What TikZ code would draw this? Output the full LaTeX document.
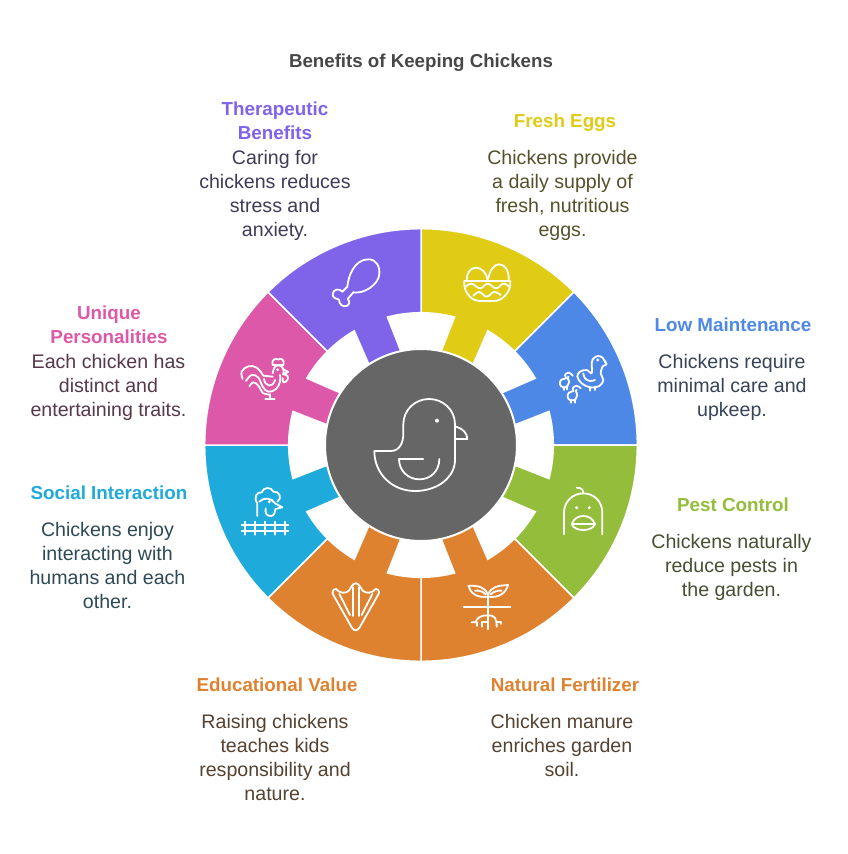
\documentclass[tikz,border=0pt]{standalone}
\usepackage{fontspec}
\setmainfont{Liberation Sans}
\usetikzlibrary{calc}

\definecolor{eggyellow}{HTML}{E0CB15}
\definecolor{lowblue}{HTML}{4E88E7}
\definecolor{pestgreen}{HTML}{93BD3A}
\definecolor{soilorange}{HTML}{DF8230}
\definecolor{socialcyan}{HTML}{1EAADB}
\definecolor{roosterpink}{HTML}{DD58A8}
\definecolor{calmpurple}{HTML}{7F63E9}
\definecolor{hubgray}{HTML}{666666}

% one ring segment: #1 colour, #2 start angle (the tab sits at start + 22.5)
\newcommand{\ringsegment}[2]{
    \pgfmathsetmacro{\tabmid}{#2+22.5}
    \fill[#1, draw=white, line width=1.5pt] ($(421,445)+(#2:216.3)$)
        arc[start angle=#2, end angle=#2+45, radius=216.3]
        -- ($(421,445)+(#2+45:132.3)$)
        arc[start angle=#2+45, end angle=\tabmid+7.8, radius=132.3]
        -- ($(421,445)+(\tabmid+11:90)$) -- ($(421,445)+(\tabmid-11:90)$)
        -- ($(421,445)+(\tabmid-7.8:132.3)$)
        arc[start angle=\tabmid-7.8, end angle=#2, radius=132.3]
        -- cycle;
}

\begin{document}
\begin{tikzpicture}[
    x=1pt, y=-1pt,
    titletext/.style={font=\fontsize{18.7}{24}\selectfont\bfseries, align=center, inner sep=0pt},
    headtext/.style={font=\fontsize{18.8}{24}\selectfont\bfseries, align=center, inner sep=0pt},
    bodytext/.style={font=\fontsize{19.6}{24}\selectfont, align=center, inner sep=0pt},
    iconline/.style={draw=white, line width=1.8pt, line cap=round, line join=round}
]
    \useasboundingbox (0,0) rectangle (848,854);
    \fill[white] (0,0) rectangle (848,854);

    % Title
    \node[titletext, text=black!72] (title) at (421,63) {Benefits of Keeping Chickens};

    % Ring segments, clockwise from the top
    \ringsegment{eggyellow}{-90}
    \ringsegment{lowblue}{-45}
    \ringsegment{pestgreen}{0}
    \ringsegment{soilorange}{45}
    \ringsegment{soilorange}{90}
    \ringsegment{socialcyan}{135}
    \ringsegment{roosterpink}{180}
    \ringsegment{calmpurple}{225}

    % Hub
    \fill[hubgray, draw=white, line width=2pt] (421,445) circle[radius=96];
    \begin{scope}[shift={(360,385)}, scale=1/3]
        \draw[iconline] (43,198) -- (92,198) .. controls (118,198) and (130,175) .. (130,145)
            -- (130,118) .. controls (130,75) and (165,42) .. (207,42)
            .. controls (250,42) and (285,75) .. (285,118) -- (285,225)
            .. controls (285,275) and (235,318) .. (165,318)
            .. controls (95,318) and (43,265) .. (43,198) -- cycle;
        \draw[iconline] (288,125) .. controls (308,130) and (322,145) .. (322,162) -- (288,162);
        \draw[iconline] (190,222) -- (117,222) .. controls (117,258) and (145,283) .. (178,283)
            .. controls (212,283) and (238,258) .. (238,222);
        \fill[white] (231,107) circle[radius=6];
    \end{scope}

    % Drumstick
    \begin{scope}[shift={(200,225)}, scale=1/3]
        \draw[iconline] (442,185) .. controls (445,150) and (465,103) .. (505,103)
            .. controls (530,103) and (540,125) .. (538,148)
            .. controls (535,180) and (490,208) .. (460,202);
        \draw[iconline] (442,185) -- (427,200);
        \draw[iconline] (460,202) -- (443,222);
        \draw[iconline] (427,200) .. controls (418,188) and (398,193) .. (398,208)
            .. controls (398,218) and (408,222) .. (417,224)
            .. controls (417,240) and (430,246) .. (440,243)
            .. controls (450,238) and (450,228) .. (443,222);
    \end{scope}

    % Eggs in a basket
    \begin{scope}[shift={(420,225)}, scale=1/3]
        \draw[iconline] (133,168) -- (271,168) -- (271,180) .. controls (268,205) and (245,228) .. (222,228) -- (180,228)
            .. controls (155,228) and (135,205) .. (133,180) -- cycle;
        \draw[iconline] (140,165) .. controls (140,145) and (150,128) .. (168,128) .. controls (186,128) and (200,145) .. (203,165);
        \draw[iconline] (205,160) .. controls (210,135) and (222,118) .. (238,118) .. controls (256,118) and (268,140) .. (266,165);
        \draw[iconline] plot[smooth, tension=.7] coordinates {(136,186) (155,176) (180,190) (203,176) (228,190) (250,176) (268,186)};
        \draw[iconline] plot[smooth, tension=.7] coordinates {(160,212) (178,201) (200,215) (222,201) (242,210)};
    \end{scope}

    % Duck with two ducklings
    \begin{scope}[shift={(420,225)}, scale=1/3]
        \draw[iconline] plot[smooth, tension=.6] coordinates {(515,420) (518,403) (533,393) (548,398) (555,412)};
        \draw[iconline] (555,408) -- (560,418) -- (548,424);
        \draw[iconline] plot[smooth, tension=.6] coordinates {(548,424) (542,445) (550,465) (538,483) (510,487) (485,475) (472,455) (480,440) (500,435) (515,445) (515,420)};
        \draw[iconline] plot[smooth, tension=.7] coordinates {(490,445) (495,460) (510,468) (525,465)};
        \draw[iconline] (510,487) -- (510,497) (526,485) -- (526,495);
        \fill[white] (533,405) circle[radius=5];
        % first duckling
        \draw[iconline] plot[smooth, tension=.8] coordinates {(458,452) (447,443) (435,450) (438,460) (424,464) (420,478) (430,487) (443,482) (448,470) (443,460) (445,455)};
        \draw[iconline] (431,487) -- (431,495) (441,484) -- (441,493);
        % second duckling
        \draw[iconline] plot[smooth, tension=.8] coordinates {(482,490) (470,482) (458,490) (460,498) (447,503) (443,517) (453,526) (467,522) (472,510) (467,498) (470,494)};
        \draw[iconline] (454,526) -- (454,533) (465,524) -- (465,533);
    \end{scope}

    % Chick face
    \begin{scope}[shift={(420,440)}, scale=1/3]
        \draw[iconline] (432,283) -- (432,218) .. controls (432,185) and (458,160) .. (490,160)
            .. controls (522,160) and (547,185) .. (547,218) -- (547,283);
        \draw[iconline] (470,143) .. controls (485,143) and (490,150) .. (490,160);
        \fill[white] (470,203) circle[radius=5];
        \fill[white] (508,203) circle[radius=5];
        \draw[iconline] (455,252) .. controls (462,235) and (475,228) .. (490,228)
            .. controls (505,228) and (518,235) .. (525,252)
            .. controls (520,265) and (505,270) .. (490,270)
            .. controls (475,270) and (460,265) .. (455,252) -- cycle;
        \draw[iconline] (457,252) -- (523,252);
    \end{scope}

    % Sprout and roots
    \begin{scope}[shift={(420,440)}, scale=1/3]
        \draw[iconline] (204,462) -- (204,568);
        \draw[iconline] (131,500) -- (271,500);
        \draw[iconline] (204,465) .. controls (195,440) and (175,437) .. (145,437)
            .. controls (150,458) and (170,475) .. (204,470);
        \draw[iconline] (204,465) .. controls (213,440) and (233,437) .. (264,435)
            .. controls (258,458) and (238,475) .. (204,470);
        \draw[iconline] (165,452) .. controls (175,450) and (190,455) .. (197,463);
        \draw[iconline] (245,452) .. controls (235,450) and (220,455) .. (212,463);
        \draw[iconline] (155,547) -- (166,547) .. controls (172,535) and (178,526) .. (204,526)
            .. controls (225,526) and (230,535) .. (230,560);
        \draw[iconline] (185,560) -- (185,546) -- (204,546);
        \draw[iconline] (170,547) -- (170,558);
        \draw[iconline] (230,545) -- (242,545) -- (242,552);
    \end{scope}

    % Webbed foot
    \begin{scope}[shift={(200,440)}, scale=1/3]
        \draw[iconline] (408,447) .. controls (398,447) and (395,458) .. (400,465) -- (455,562)
            .. controls (462,574) and (472,574) .. (479,562) -- (534,465)
            .. controls (540,458) and (537,447) .. (527,447)
            .. controls (515,460) and (500,462) .. (488,452)
            .. controls (480,440) and (475,430) .. (467,430)
            .. controls (459,430) and (454,440) .. (447,452)
            .. controls (435,462) and (420,460) .. (408,447) -- cycle;
        \draw[iconline] (458,442) -- (458,528);
        \draw[iconline] (476,442) -- (476,528);
        \draw[iconline] (418,462) -- (450,525);
        \draw[iconline] (517,462) -- (485,525);
    \end{scope}

    % Hen behind a fence
    \begin{scope}[shift={(200,440)}, scale=1/3]
        \foreach \postx in {135,165,195,225,255}
            \draw[iconline] (\postx,245) -- (\postx,284);
        \draw[iconline] (125,256) -- (265,256);
        \draw[iconline] (125,274) -- (265,274);
        \draw[iconline] (172,228) -- (172,190) .. controls (160,172) and (170,155) .. (185,157)
            .. controls (190,140) and (215,140) .. (220,155)
            .. controls (238,152) and (248,175) .. (232,185);
        \draw[iconline] (178,185) .. controls (190,172) and (215,172) .. (225,190) -- (247,202) -- (226,207)
            .. controls (225,218) and (222,228) .. (212,228) .. controls (200,228) and (195,220) .. (197,205);
        \fill[white] (208,185) circle[radius=5];
    \end{scope}

    % Rooster
    \begin{scope}[shift={(200,225)}, scale=1/3]
        \draw[iconline] plot[smooth, tension=.7] coordinates {(128,462) (125,440) (145,424) (170,428) (190,452)};
        \draw[iconline] (190,452) -- (218,455);
        \draw[iconline] plot[smooth, tension=.7] coordinates {(138,468) (155,450) (175,458) (188,485) (205,500) (228,492) (240,470) (240,450)};
        \draw[iconline] plot[smooth, tension=.7] coordinates {(148,484) (160,472) (175,482) (190,505) (210,508)};
        \draw[iconline] (192,462) .. controls (195,485) and (218,490) .. (225,465);
        \draw[iconline] plot[smooth, tension=.7] coordinates {(218,445) (225,425) (240,422) (250,432) (250,445)};
        \draw[iconline] (218,420) .. controls (212,402) and (230,398) .. (235,404) .. controls (240,398) and (256,402) .. (250,420) -- cycle;
        \draw[iconline] (250,433) -- (265,441) -- (250,447);
        \draw[iconline] plot[smooth, tension=.8] coordinates {(248,448) (262,452) (262,465) (250,472) (248,460)};
        \draw[iconline] (210,508) -- (210,521) (196,522) -- (224,522);
        \fill[white] (233,434) circle[radius=4.5];
    \end{scope}

    % Labels
    \node[headtext, text=eggyellow] (eggshead) at (565,123) {Fresh Eggs};
    \node[bodytext, text=eggyellow!25!black!85] (eggsbody) at (562.5,195) {Chickens provide\\a daily supply of\\fresh, nutritious\\eggs.};
    \node[headtext, text=lowblue] (lowhead) at (733,325) {Low Maintenance};
    \node[bodytext, text=lowblue!25!black!85] (lowbody) at (732,387) {Chickens require\\minimal care and\\upkeep.};
    \node[headtext, text=pestgreen] (pesthead) at (733,505) {Pest Control};
    \node[bodytext, text=pestgreen!25!black!85] (pestbody) at (731.5,567) {Chickens naturally\\reduce pests in\\the garden.};
    \node[headtext, text=soilorange] (soilhead) at (565,685) {Natural Fertilizer};
    \node[bodytext, text=soilorange!25!black!85] (soilbody) at (562,745) {Chicken manure\\enriches garden\\soil.};
    \node[headtext, text=soilorange] (eduhead) at (277,685) {Educational Value};
    \node[bodytext, text=soilorange!25!black!85] (edubody) at (275,757) {Raising chickens\\teaches kids\\responsibility and\\nature.};
    \node[headtext, text=socialcyan] (socialhead) at (109,493) {Social Interaction};
    \node[bodytext, text=socialcyan!25!black!85] (socialbody) at (107.5,565) {Chickens enjoy\\interacting with\\humans and each\\other.};
    \node[headtext, text=roosterpink] (uniquehead) at (109,325) {Unique\\Personalities};
    \node[bodytext, text=roosterpink!25!black!85] (uniquebody) at (108.5,387) {Each chicken has\\distinct and\\entertaining traits.};
    \node[headtext, text=calmpurple] (calmhead) at (275,121) {Therapeutic\\Benefits};
    \node[bodytext, text=calmpurple!25!black!85] (calmbody) at (275,195) {Caring for\\chickens reduces\\stress and\\anxiety.};
\end{tikzpicture}
\end{document}
